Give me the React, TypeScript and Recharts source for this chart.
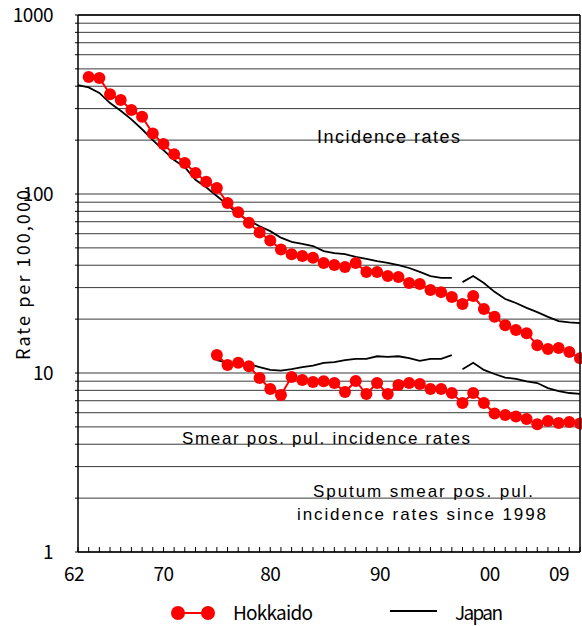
import React from 'react';
import { LineChart, Line, XAxis, YAxis, CartesianGrid } from 'recharts';

const years = [
  1962, 1963, 1964, 1965, 1966, 1967, 1968, 1969, 1970, 1971,
  1972, 1973, 1974, 1975, 1976, 1977, 1978, 1979, 1980, 1981,
  1982, 1983, 1984, 1985, 1986, 1987, 1988, 1989, 1990, 1991,
  1992, 1993, 1994, 1995, 1996, 1997, 1998, 1999, 2000, 2001,
  2002, 2003, 2004, 2005, 2006, 2007, 2008, 2009,
];

// Hokkaido incidence rates (per 100,000)
const hokkaidoIncidence = [
  null, 451, 445, 361, 335, 295, 270, 218, 190, 167,
  149, 131, 117, 108, 89, 79, 69, 61, 55, 49,
  46, 45, 44, 41.2, 40.1, 39.1, 41.2, 36.7, 36.7, 34.8,
  34.4, 31.8, 31.4, 29.1, 28.3, 26.6, 24.3, 26.9, 22.8, 20.6,
  18.5, 17.4, 16.7, 14.3, 13.6, 13.8, 13.1, 12.1,
];

// Japan incidence rates
const japanIncidence = [
  406, 394, 367, 322, 292, 261, 230, 200, 176, 155,
  141, 120, 109, 97.5, 87, 77, 71, 66, 62, 57,
  54, 52.6, 51.2, 48, 46.8, 46.2, 44.5, 43.4, 42.2, 41.2,
  40.1, 38.6, 36.7, 34.8, 34.0, 34.0, 32.2, 34.8, 31.8, 28.4,
  25.9, 24.6, 23.1, 21.9, 20.6, 19.5, 19.2, 19.0,
];

// Hokkaido smear positive pulmonary incidence rates
const hokkaidoSmear = [
  null, null, null, null, null, null, null, null, null, null,
  null, null, null, 12.6, 11.1, 11.4, 10.9, 9.38, 8.14, 7.54,
  9.5, 9.14, 8.91, 9.0, 8.8, 7.83, 9.03, 7.63, 8.8, 7.63,
  8.57, 8.8, 8.68, 8.14, 8.14, 7.73, 6.8, 7.73, 6.8, 5.94,
  5.82, 5.71, 5.53, 5.18, 5.4, 5.26, 5.32, 5.22,
];

// Japan smear positive pulmonary incidence rates
const japanSmear = [
  null, null, null, null, null, null, null, null, null, null,
  null, null, null, 11.8, 11.4, 11.3, 11.2, 10.8, 10.4, 10.3,
  10.5, 10.8, 11.0, 11.4, 11.5, 11.8, 12.0, 12.0, 12.4, 12.3,
  12.4, 12.1, 11.7, 12.0, 12.0, 12.6, 10.5, 11.4, 10.4, 9.87,
  9.43, 9.26, 8.97, 8.79, 8.24, 7.93, 7.73, 7.64,
];

// Japanese series are redefined from 1998 (sputum smear pos.), so the line breaks there
const seriesBreakYear = 1998;

const yTicks = [
  1, 2, 3, 4, 5, 6, 7, 8, 9,
  10, 20, 30, 40, 50, 60, 70, 80, 90,
  100, 200, 300, 400, 500, 600, 700, 800, 900, 1000,
];
const yLabelTicks = [1, 10, 100, 1000];

const xLabelYears = [1962, 1970, 1980, 1990, 2000, 2009];
const xLabels = ['62', '70', '80', '90', '00', '09'];
const xLabelNudge = [-4, 0, 0, 3, 6, -21];

const data = years.map((year, i) => ({
  year,
  hokkaidoInc: hokkaidoIncidence[i],
  hokkaidoSmear: hokkaidoSmear[i],
  japanIncOld: year < seriesBreakYear ? japanIncidence[i] : null,
  japanIncNew: year >= seriesBreakYear ? japanIncidence[i] : null,
  japanSmearOld: year < seriesBreakYear ? japanSmear[i] : null,
  japanSmearNew: year >= seriesBreakYear ? japanSmear[i] : null,
}));

const gothic = '"Noto Sans CJK JP", "Noto Sans", sans-serif';
const sans = '"Liberation Sans", Arial, sans-serif';
const RED = '#FF0000';

const XTick = (props: any) => {
  const { x, y, payload } = props;
  const idx = xLabelYears.indexOf(payload.value);
  return (
    <g>
      <line x1={x} x2={x} y1={y - 5} y2={y} stroke="#000" strokeWidth={1} />
      {idx >= 0 && (
        <text
          x={x + xLabelNudge[idx]}
          y={y + 29}
          textAnchor="middle"
          fontFamily={gothic}
          fontSize={19}
          letterSpacing={-0.5}
          fill="#000"
        >
          {xLabels[idx]}
        </text>
      )}
    </g>
  );
};

export default function App() {
  const W = 582;
  const H = 626;
  return (
    <div style={{ position: 'absolute', left: 0, top: 0, width: W, height: H, background: '#fff' }}>
      <LineChart
        width={W}
        height={H}
        data={data}
        margin={{ top: 15, right: 2, bottom: 44, left: 0 }}
      >
        <CartesianGrid vertical={false} stroke="#3a3a3a" strokeWidth={1} />
        <XAxis
          dataKey="year"
          type="number"
          domain={[1962, 2009]}
          ticks={years}
          interval={0}
          height={30}
          tickSize={0}
          tickMargin={0}
          tickLine={false}
          axisLine={{ stroke: '#000', strokeWidth: 1.5 }}
          tick={<XTick />}
        />
        <YAxis
          scale="log"
          domain={[1, 1000]}
          allowDataOverflow
          ticks={yTicks}
          interval={0}
          width={78}
          tickSize={3}
          tickMargin={22}
          axisLine={{ stroke: '#000', strokeWidth: 1.5 }}
          tickLine={{ stroke: '#000' }}
          tick={{ fontFamily: gothic, fontSize: 19, fill: '#000', letterSpacing: -0.5 }}
          tickFormatter={(v: number) => (yLabelTicks.includes(v) ? String(v) : '')}
        />
        <Line dataKey="japanIncOld" stroke="#000" strokeWidth={1.8} dot={false} isAnimationActive={false} connectNulls={false} />
        <Line dataKey="japanIncNew" stroke="#000" strokeWidth={1.8} dot={false} isAnimationActive={false} connectNulls={false} />
        <Line dataKey="japanSmearOld" stroke="#000" strokeWidth={1.8} dot={false} isAnimationActive={false} connectNulls={false} />
        <Line dataKey="japanSmearNew" stroke="#000" strokeWidth={1.8} dot={false} isAnimationActive={false} connectNulls={false} />
        <Line
          dataKey="hokkaidoInc"
          stroke={RED}
          strokeWidth={2}
          dot={{ r: 6, fill: RED, stroke: RED, strokeWidth: 0 }}
          isAnimationActive={false}
        />
        <Line
          dataKey="hokkaidoSmear"
          stroke={RED}
          strokeWidth={2}
          dot={{ r: 6, fill: RED, stroke: RED, strokeWidth: 0 }}
          isAnimationActive={false}
        />
      </LineChart>
      <svg
        width={W}
        height={H}
        style={{ position: 'absolute', left: 0, top: 0, pointerEvents: 'none' }}
      >
        <line x1={580} x2={580} y1={15} y2={552} stroke="#000" strokeWidth={1.5} />
        <line x1={78} x2={580} y1={15} y2={15} stroke="#000" strokeWidth={1.5} />
        <text x={317} y={143} fontFamily={sans} fontSize={18} textLength={143} fill="#000">
          Incidence rates
        </text>
        <text x={182} y={444} fontFamily={sans} fontSize={17} textLength={288} fill="#000">
          Smear pos. pul. incidence rates
        </text>
        <text x={313} y={497} fontFamily={sans} fontSize={17} textLength={220} fill="#000">
          Sputum smear pos. pul.
        </text>
        <text x={297} y={520} fontFamily={sans} fontSize={17} textLength={249} fill="#000">
          incidence rates since 1998
        </text>
        <text
          transform="translate(30, 275) rotate(-90)"
          textAnchor="middle"
          fontFamily={gothic}
          fontSize={18}
          textLength={170}
          fill="#000"
        >
          Rate per 100,000
        </text>
        {/* legend */}
        <line x1={178} x2={208} y1={613} y2={613} stroke={RED} strokeWidth={2} />
        <circle cx={178} cy={613} r={7} fill={RED} />
        <circle cx={208} cy={613} r={7} fill={RED} />
        <text x={233} y={620} fontFamily={gothic} fontSize={19} textLength={80} fill="#000">
          Hokkaido
        </text>
        <line x1={390} x2={437} y1={611} y2={611} stroke="#000" strokeWidth={2} />
        <text x={455} y={620} fontFamily={gothic} fontSize={19} textLength={48} fill="#000">
          Japan
        </text>
      </svg>
    </div>
  );
}
